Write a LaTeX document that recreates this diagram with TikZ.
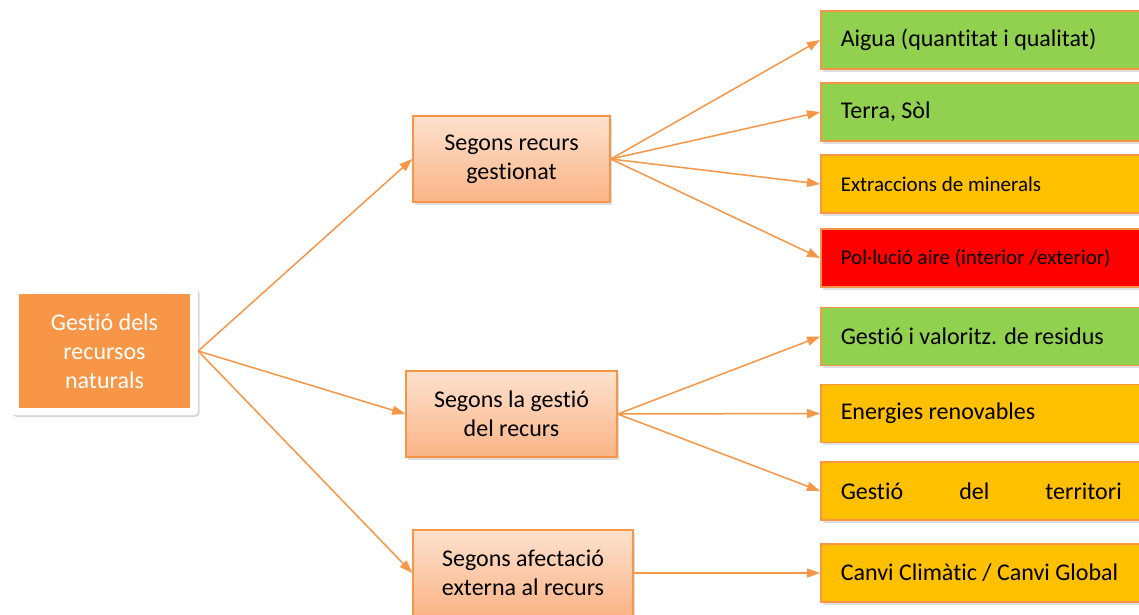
\documentclass[tikz,border=0pt]{standalone}
\usepackage{fontspec}
\setmainfont{Carlito}[Ligatures=NoCommon]
\usetikzlibrary{arrows.meta,shadows}
\definecolor{acc}{HTML}{F79646}
\definecolor{lgreen}{HTML}{92D050}
\definecolor{lgold}{HTML}{FFC000}
\definecolor{lred}{HTML}{FF0000}
\definecolor{midtop}{HTML}{FDE1CD}
\definecolor{midbot}{HTML}{FAB487}
\begin{document}
\begin{tikzpicture}[x=1pt,y=-1pt,
  conn/.style={draw=acc,line width=1.5pt,-{Triangle[length=13pt,width=9pt]}},
  shad/.style={drop shadow={shadow xshift=2pt,shadow yshift=-2.5pt,opacity=0.25}},
  leaf/.style={draw=acc,line width=1.5pt,minimum height=58pt,text width=285pt,inner xsep=20pt,
    align=flush left,font=\fontsize{24}{29}\selectfont,anchor=west,shad},
  mid/.style={draw=acc,line width=1.5pt,top color=midtop,bottom color=midbot,minimum height=86pt,
    align=center,font=\fontsize{24}{29}\selectfont,shad},
  ]
\useasboundingbox (0,0) rectangle (1139,614);
\fill[white] (0,0) rectangle (1139,614);
\clip (0,0) rectangle (1139,614);

% root
\node[fill=white,rounded corners=4pt,minimum width=187pt,minimum height=128pt,
  drop shadow={shadow xshift=1.5pt,shadow yshift=-2pt,opacity=0.3}] (rootbg) at (104.5,351) {};
\node[fill=acc,minimum width=171pt,minimum height=114pt,text=white,align=center,
  font=\fontsize{24}{29}\selectfont] (root) at (104.5,351) {Gestió dels\\recursos\\naturals};

% middle
\node[mid,minimum width=197pt] (m1) at (511.5,159) {Segons recurs\\gestionat};
\node[mid,minimum width=211pt] (m2) at (511.5,414) {Segons la gestió\\del recurs};
\node[mid,minimum width=220pt] (m3) at (523,573) {Segons afectació\\externa al recurs};

% leaves
\node[leaf,fill=lgreen] (l1) at (820,40) {Aigua (quantitat i qualitat)};
\node[leaf,fill=lgreen] (l2) at (820,112) {Terra, Sòl};
\node[leaf,fill=lgold,font=\fontsize{21}{26}\selectfont] (l3) at (820,184) {Extraccions de minerals};
\node[leaf,fill=lred,font=\fontsize{21}{26}\selectfont] (l4) at (820,258) {Pol·lució aire (interior /exterior)};
\node[leaf,fill=lgreen] (l5) at (820,336.5) {Gestió i valoritz. de residus};
\node[leaf,fill=lgold] (l6) at (820,413.5) {Energies renovables};
\node[leaf,fill=lgold] (l7) at (820,491) {\hbox to 281pt{Gestió\hfill del\hfill territori}};
\node[leaf,fill=lgold] (l8) at (820,573) {Canvi Climàtic / Canvi Global};

% connectors
\draw[conn] (rootbg.east) -- (m1.west);
\draw[conn] (rootbg.east) -- (m2.west);
\draw[conn] (rootbg.east) -- (m3.west);
\draw[conn] (m1.east) -- (l1.west);
\draw[conn] (m1.east) -- (l2.west);
\draw[conn] (m1.east) -- (l3.west);
\draw[conn] (m1.east) -- (l4.west);
\draw[conn] (m2.east) -- (l5.west);
\draw[conn] (m2.east) -- (l6.west);
\draw[conn] (m2.east) -- (l7.west);
\draw[conn] (m3.east) -- (l8.west);
\end{tikzpicture}
\end{document}
